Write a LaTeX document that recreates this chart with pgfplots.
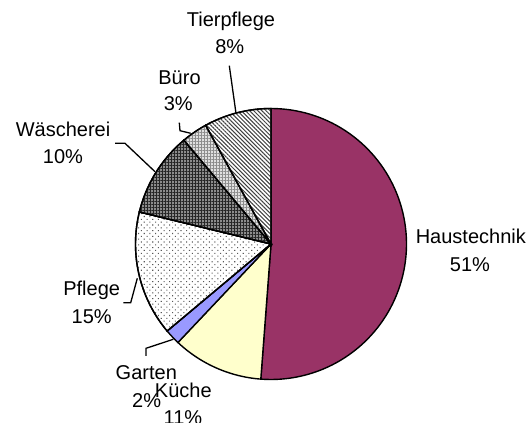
\documentclass[border=0pt]{standalone}
\usepackage{fontspec}
\setmainfont{Liberation Sans}
\usepackage{pgfplots}
\pgfplotsset{compat=1.18}
\usetikzlibrary{patterns.meta}
\definecolor{haus}{RGB}{153,51,102}
\definecolor{kueche}{RGB}{255,255,204}
\definecolor{garten}{RGB}{153,153,255}
\tikzset{lbl/.style={anchor=base, inner sep=0pt, font=\fontsize{20bp}{27bp}\selectfont}}
\begin{document}
\begin{tikzpicture}
\useasboundingbox (0,0) rectangle (532bp,423bp);
\clip (0,0) rectangle (532bp,423bp);
\begin{axis}[
  at={(0,0)}, anchor=south west,
  width=532bp, height=423bp, scale only axis,
  xmin=0, xmax=532, ymin=0, ymax=423,
  hide axis, clip=false,
  wedge/.style={draw=black, line width=1.4bp, samples=90, variable=\t},
  leader/.style={black, line width=1.3bp, mark=none},
]
% shares in percent (clockwise from 12 o'clock):
% Haustechnik 51.2, Kueche 10.85, Garten 1.85, Pflege 14.9, Waescherei 10.1, Buero 3.1, Tierpflege 8.0
\addplot[wedge, fill=haus, domain={90-3.6*51.2}:{90}]
  ({271+135.5*cos(\t)},{179+135.5*sin(\t)}) -- (axis cs:271,179) -- cycle;
\addplot[wedge, fill=kueche, domain={90-3.6*(51.2+10.85)}:{90-3.6*51.2}]
  ({271+135.5*cos(\t)},{179+135.5*sin(\t)}) -- (axis cs:271,179) -- cycle;
\addplot[wedge, fill=garten, domain={90-3.6*(62.05+1.85)}:{90-3.6*62.05}]
  ({271+135.5*cos(\t)},{179+135.5*sin(\t)}) -- (axis cs:271,179) -- cycle;
\addplot[wedge, fill=white, postaction={pattern={Dots[distance=4bp, radius=0.75bp, angle=45]}, pattern color=black!65},
  domain={90-3.6*(63.9+14.9)}:{90-3.6*63.9}]
  ({271+135.5*cos(\t)},{179+135.5*sin(\t)}) -- (axis cs:271,179) -- cycle;
\addplot[wedge, fill=black!45, postaction={pattern={Hatch[angle=0, distance=3bp, line width=0.8bp]}, pattern color=black!85},
  domain={90-3.6*(78.8+10.1)}:{90-3.6*78.8}]
  ({271+135.5*cos(\t)},{179+135.5*sin(\t)}) -- (axis cs:271,179) -- cycle;
\addplot[wedge, fill=black!12, postaction={pattern={Hatch[angle=0, distance=3bp, line width=0.6bp]}, pattern color=black!45},
  domain={90-3.6*(88.9+3.1)}:{90-3.6*88.9}]
  ({271+135.5*cos(\t)},{179+135.5*sin(\t)}) -- (axis cs:271,179) -- cycle;
\addplot[wedge, fill=white, postaction={pattern={Lines[angle=-45, distance=2.9bp, line width=1bp]}, pattern color=black!75},
  domain={90-3.6*100}:{90-3.6*92}]
  ({271+135.5*cos(\t)},{179+135.5*sin(\t)}) -- (axis cs:271,179) -- cycle;
% leader lines
\addplot[leader] coordinates {(229.3,357.3) (236,309.7)};
\addplot[leader] coordinates {(179.3,300.3) (180,292.3) (190.7,289.7)};
\addplot[leader] coordinates {(115,279.7) (125,279.7) (155,251.3)};
\addplot[leader] coordinates {(123.3,120.3) (130.7,120.3) (137.3,144.7)};
\addplot[leader] coordinates {(146,67) (146,74.7) (173.3,83.7)};
% labels
\node[lbl] at (axis cs:231,396.3) {Tierpflege};
\node[lbl] at (axis cs:229.7,369.7) {8\%};
\node[lbl] at (axis cs:179.5,338) {Büro};
\node[lbl] at (axis cs:178.3,312.3) {3\%};
\node[lbl] at (axis cs:63,286.3) {Wäscherei};
\node[lbl] at (axis cs:63,259.7) {10\%};
\node[lbl] at (axis cs:470.8,179.7) {Haustechnik};
\node[lbl] at (axis cs:470,151.3) {51\%};
\node[lbl] at (axis cs:91.7,127) {Pflege};
\node[lbl] at (axis cs:91.7,99.7) {15\%};
\node[lbl] at (axis cs:146.3,43) {Garten};
\node[lbl] at (axis cs:146.7,15.7) {2\%};
\node[lbl] at (axis cs:183.3,25.7) {Küche};
\node[lbl] at (axis cs:183,-1.5) {11\%};
\end{axis}
\end{tikzpicture}
\end{document}
